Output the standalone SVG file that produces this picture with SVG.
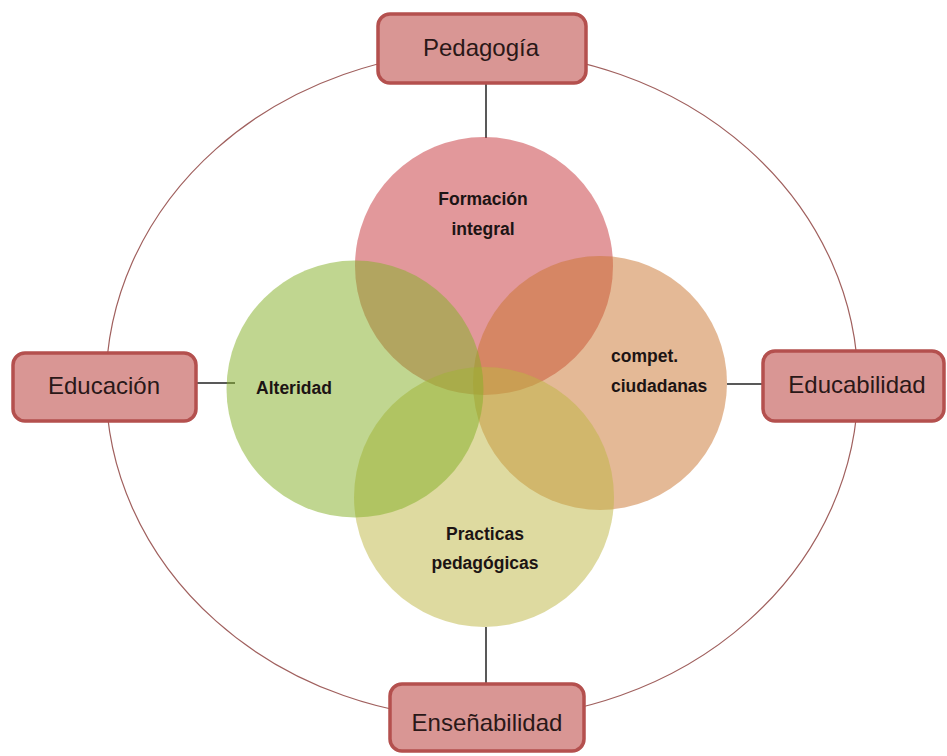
<svg xmlns="http://www.w3.org/2000/svg" width="947" height="756" viewBox="0 0 947 756">
<style>
.box{fill:#D99694;stroke:#B4504E;stroke-width:3.5}
.bt{font-family:"Liberation Sans",Arial,sans-serif;font-size:24px;fill:#2a1818;text-anchor:middle}
.ct{font-family:"Liberation Sans",Arial,sans-serif;font-size:17.5px;font-weight:bold;fill:#1c1414;text-anchor:middle}
.con{stroke:#222;stroke-width:1.5;fill:none}
.ring{stroke:#A0605E;stroke-width:1.2;fill:none}
</style>
<rect width="947" height="756" fill="#ffffff"/>
<ellipse class="ring" cx="482" cy="385" rx="376" ry="334"/>
<g id="connectors">
<line class="con" x1="486" y1="84" x2="486" y2="138"/>
<line class="con" x1="486" y1="627" x2="486" y2="684"/>
<line class="con" x1="197" y1="383" x2="235" y2="383"/>
<line class="con" x1="727" y1="384" x2="762" y2="384"/>
</g>
<g id="c-formacion">
<circle cx="484" cy="266" r="129" fill="#C53137" fill-opacity="0.5"/>
</g>
<g id="c-compet">
<circle cx="600" cy="383" r="127" fill="#C9732D" fill-opacity="0.5"/>
</g>
<g id="c-practicas">
<circle cx="484" cy="497" r="130" fill="#BDB541" fill-opacity="0.5"/>
</g>
<g id="c-alteridad">
<circle cx="355" cy="389" r="128.5" fill="#86B02A" fill-opacity="0.52"/>
</g>
<g id="labels">
<text class="ct" x="483" y="205">Formación</text>
<text class="ct" x="483" y="235">integral</text>
<text class="ct" x="485" y="540">Practicas</text>
<text class="ct" x="485" y="569">pedagógicas</text>
<text class="ct" x="294" y="394">Alteridad</text>
<text class="ct" x="611" y="362" style="text-anchor:start">compet.</text>
<text class="ct" x="611" y="392" style="text-anchor:start">ciudadanas</text>
</g>
<g id="n-pedagogia">
<rect class="box" x="378" y="14" width="208" height="69" rx="12"/>
<text class="bt" x="481" y="56">Pedagogía</text>
</g>
<g id="n-educacion">
<rect class="box" x="13" y="353" width="183" height="68" rx="12"/>
<text class="bt" x="104" y="394">Educación</text>
</g>
<g id="n-educabilidad">
<rect class="box" x="763" y="351" width="181" height="70" rx="12"/>
<text class="bt" x="857" y="393">Educabilidad</text>
</g>
<g id="n-ensenabilidad">
<rect class="box" x="390" y="684" width="194" height="67" rx="12"/>
<text class="bt" x="487" y="731">Enseñabilidad</text>
</g>
</svg>
